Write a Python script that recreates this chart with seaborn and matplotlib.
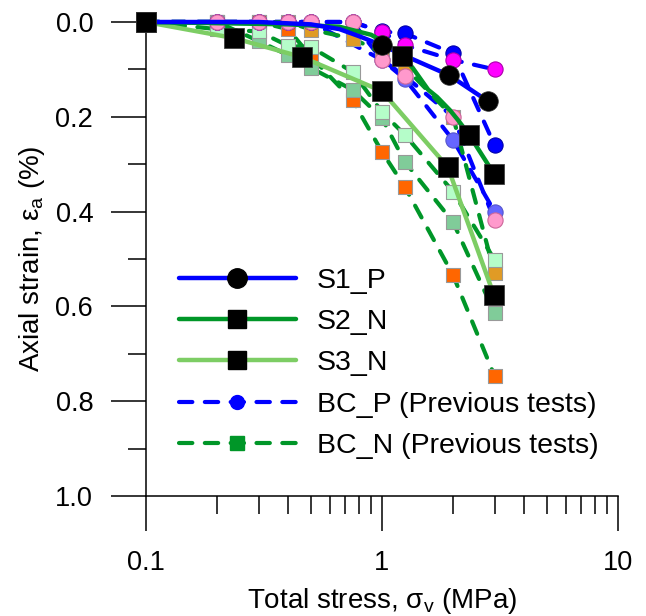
import matplotlib
matplotlib.use("Agg")
import matplotlib.pyplot as plt
from matplotlib.lines import Line2D
from matplotlib.ticker import FixedLocator, NullFormatter, FixedFormatter, LogLocator
import seaborn as sns
import numpy as np

sns.set_theme(style="white")
plt.rcParams['font.family'] = ['Liberation Sans', 'DejaVu Sans']
plt.rcParams['mathtext.fontset'] = 'custom'
plt.rcParams['mathtext.rm'] = 'Liberation Sans'
plt.rcParams['mathtext.it'] = 'Liberation Sans:italic'
for k in ['text.color', 'axes.labelcolor', 'xtick.color', 'ytick.color']:
    plt.rcParams[k] = 'black'

# ---------------- data ----------------
stress = [0.1, 0.2, 0.3, 0.4, 0.5, 0.75, 1.0, 1.25, 2.0, 3.0]
stress_skip = [0.1, 0.2, 0.3, 0.4, 0.5, 1.0, 1.25, 2.0, 3.0]

# Previous tests, P (circles, blue dashed)
bcp_blue = [0, 0, 0, 0, 0, 0, 0.02, 0.024, 0.066, 0.26]
bcp_magenta = [0, 0, 0, 0, 0, 0, 0.021, 0.049, 0.08, 0.10]
bcp_pink = [0, 0, 0, 0, 0, 0, 0.08, 0.114, 0.20, 0.418]
bcp_peri = [0, 0, 0, 0, 0, 0.08, 0.12, 0.249, 0.40]   # on stress_skip

# Previous tests, N (squares, green dashed)
bcn_mint = [0, 0.015, 0.02, 0.05, 0.053, 0.105, 0.19, 0.238, 0.358, 0.502]
bcn_mid = [0, 0, 0.04, 0.07, 0.097, 0.143, 0.203, 0.295, 0.422, 0.614]
bcn_orange = [0, 0, 0, 0.015, 0.073, 0.165, 0.274, 0.348, 0.534, 0.747]
bcn_amber = [0, 0, 0, 0, 0.016, 0.035, 0.065, 0.095, 0.20, 0.53]

# Present tests: curves
s1_cx = [0.1, 0.3, 0.5, 0.66, 0.8, 1.0, 1.3, 1.92, 2.81, 3.0]
s1_cy = [0, 0, 0.005, 0.015, 0.03, 0.049, 0.075, 0.112, 0.167, 0.176]
s2_cx = [0.1, 0.4, 0.66, 0.9, 1.0, 1.22, 1.35, 1.57, 1.71, 1.94, 2.1, 2.34, 2.98]
s2_cy = [0, 0.005, 0.01, 0.027, 0.04, 0.072, 0.097, 0.143, 0.158, 0.186, 0.207, 0.238, 0.32]
s3_cx = [0.1, 0.236, 0.458, 1.0, 1.9, 2.98]
s3_cy = [0, 0.034, 0.074, 0.146, 0.306, 0.576]

# Present tests: marked points
s1_mx = [1.0, 1.92, 2.81]
s1_my = [0.049, 0.112, 0.167]
s2_mx = [0.1, 1.22, 2.34, 2.98]
s2_my = [0, 0.072, 0.238, 0.32]
s3_mx = [0.1, 0.236, 0.458, 1.0, 1.9, 2.98]
s3_my = [0, 0.034, 0.074, 0.146, 0.306, 0.576]

legend_labels = ["S1_P", "S2_N", "S3_N", "BC_P (Previous tests)", "BC_N (Previous tests)"]
x_ticks = [0.1, 1, 10]
x_ticklabels = ["0.1", "1", "10"]
y_ticks = [0.0, 0.2, 0.4, 0.6, 0.8, 1.0]

# ---------------- style ----------------
BLUE = '#0000ff'
DGREEN = '#009628'
LGREEN = '#7dcd64'
DASH = (0, (3.2, 3.0))

fig = plt.figure(figsize=(6.46, 6.16), dpi=100)
ax = fig.add_axes([146/646, 1-496/616, (618-146)/646, (496-22)/616])
ax.set_xscale('log')

# dashed previous-test lines
for xs, ys, c in [(stress, bcp_blue, BLUE), (stress, bcp_magenta, BLUE), (stress, bcp_pink, BLUE),
                  (stress_skip, bcp_peri, BLUE),
                  (stress, bcn_mint, DGREEN), (stress, bcn_mid, DGREEN), (stress, bcn_orange, DGREEN),
                  (stress, bcn_amber, DGREEN)]:
    sns.lineplot(x=xs, y=ys, ax=ax, color=c, lw=3.0, linestyle=DASH, dash_capstyle='round',
                 estimator=None, sort=False, zorder=2, clip_on=False)

# previous-test markers
for ys, fc in [(bcn_amber, '#e09b25'), (bcn_orange, '#ff6600'), (bcn_mid, '#80cc99'), (bcn_mint, '#b5fdc9')]:
    sns.scatterplot(x=stress, y=ys, ax=ax, marker='s', s=90, color=fc,
                    edgecolor='#999999', linewidth=0.8, zorder=3, clip_on=False)
for xs, ys, fc, ec in [(stress_skip, bcp_peri, '#6666ff', '#5555cc'), (stress, bcp_blue, BLUE, '#0000aa'),
                       (stress, bcp_magenta, '#ff00ff', '#aa00aa'), (stress, bcp_pink, '#ff99cc', '#cc6699')]:
    sns.scatterplot(x=xs, y=ys, ax=ax, marker='o', s=120, color=fc,
                    edgecolor=ec, linewidth=0.8, zorder=3, clip_on=False)

# present-test curves
sns.lineplot(x=s3_cx, y=s3_cy, ax=ax, color=LGREEN, lw=3.2, estimator=None, sort=False, zorder=4, clip_on=False)
sns.lineplot(x=s2_cx, y=s2_cy, ax=ax, color=DGREEN, lw=3.2, estimator=None, sort=False, zorder=4, clip_on=False)
sns.lineplot(x=s1_cx, y=s1_cy, ax=ax, color=BLUE, lw=3.2, estimator=None, sort=False, zorder=4, clip_on=False)

sns.scatterplot(x=s1_mx, y=s1_my, ax=ax, marker='o', s=200, color='black', edgecolor='#333333',
                linewidth=0.5, zorder=5, clip_on=False)
sns.scatterplot(x=s2_mx, y=s2_my, ax=ax, marker='s', s=190, color='black', edgecolor='#333333',
                linewidth=0.5, zorder=5, clip_on=False)
sns.scatterplot(x=s3_mx, y=s3_my, ax=ax, marker='s', s=190, color='black', edgecolor='#333333',
                linewidth=0.5, zorder=5, clip_on=False)

# axes
ax.set_xlim(0.1, 10)
ax.set_ylim(1.0, 0.0)
ax.xaxis.set_major_locator(FixedLocator(x_ticks))
ax.xaxis.set_major_formatter(FixedFormatter(x_ticklabels))
ax.xaxis.set_minor_locator(LogLocator(base=10, subs=np.arange(2, 10)))
ax.xaxis.set_minor_formatter(NullFormatter())
ax.yaxis.set_major_locator(FixedLocator(y_ticks))
ax.yaxis.set_major_formatter(FixedFormatter([f"{v:.1f}" for v in y_ticks]))
ax.yaxis.set_minor_locator(FixedLocator([0.1, 0.3, 0.5, 0.7, 0.9]))

for s in ['top', 'right']:
    ax.spines[s].set_visible(False)
for s in ['left', 'bottom']:
    ax.spines[s].set_color('black')
    ax.spines[s].set_linewidth(1.1)

ax.tick_params(which='major', direction='out', length=25, width=1.1, color='black',
               labelsize=19.5, left=True, bottom=True)
ax.tick_params(which='minor', direction='out', length=13, width=1.1, color='black',
               left=True, bottom=True)
ax.tick_params(axis='y', which='major', pad=13)
ax.tick_params(axis='x', which='major', pad=14)

ax.set_xlabel(r'Total stress, $\mathregular{σ_v}$ (MPa)', fontsize=20, labelpad=7)
ax.set_ylabel(r'Axial strain, $\mathregular{ε_a}$ (%)', fontsize=20, labelpad=6)
ax.grid(False)
ax.set_facecolor('white')

# legend
handles = [
    Line2D([], [], color=BLUE, lw=3.2, marker='o', markersize=14, markerfacecolor='black', markeredgecolor='black'),
    Line2D([], [], color=DGREEN, lw=3.2, marker='s', markersize=13, markerfacecolor='black', markeredgecolor='black'),
    Line2D([], [], color=LGREEN, lw=3.2, marker='s', markersize=13, markerfacecolor='black', markeredgecolor='black'),
    Line2D([], [], color=BLUE, lw=3.0, linestyle=DASH, dash_capstyle='round', marker='o', markersize=10,
           markerfacecolor=BLUE, markeredgecolor=BLUE),
    Line2D([], [], color=DGREEN, lw=3.0, linestyle=DASH, dash_capstyle='round', marker='s', markersize=10,
           markerfacecolor=DGREEN, markeredgecolor=DGREEN),
]
leg = ax.legend(handles, legend_labels, loc='upper left', bbox_to_anchor=(0.07, 0.482),
                frameon=False, fontsize=20.5, handlelength=4.1, handletextpad=0.75,
                labelspacing=0.54, borderaxespad=0, borderpad=0)

fig.savefig('out.png', dpi=100, facecolor='white')
